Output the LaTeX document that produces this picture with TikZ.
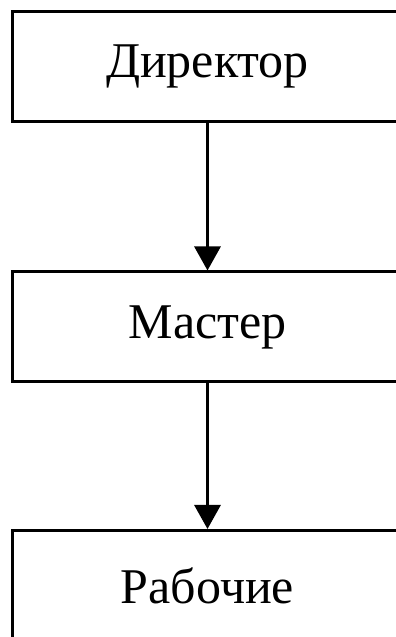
\documentclass[tikz,border=0pt]{standalone}
\usepackage{fontspec}
\setmainfont{Liberation Serif}
\usetikzlibrary{arrows.meta}
\begin{document}
\begin{tikzpicture}[x=1pt,y=1pt,
  level/.style={draw=black, line width=3pt, minimum width=390pt, minimum height=110pt,
    inner sep=0pt, font=\fontsize{50}{60}\selectfont},
  link/.style={line width=3pt, -{Triangle[width=26pt,length=24pt]}}]
  \useasboundingbox (0,0) rectangle (396,637);
  \clip (0,0) rectangle (396,637);
  \fill[white] (0,0) rectangle (396,637);
  % three levels of the hierarchy
  \node[level] (dir) at (207.5,570.5) {Директор};
  \node[level] (mas) at (207.5,310) {Мастер};
  \node[level] (rab) at (207.5,51.5) {Рабочие};
  % subordination arrows
  \draw[link] (dir.south) -- (mas.north);
  \draw[link] (mas.south) -- (rab.north);
\end{tikzpicture}
\end{document}
